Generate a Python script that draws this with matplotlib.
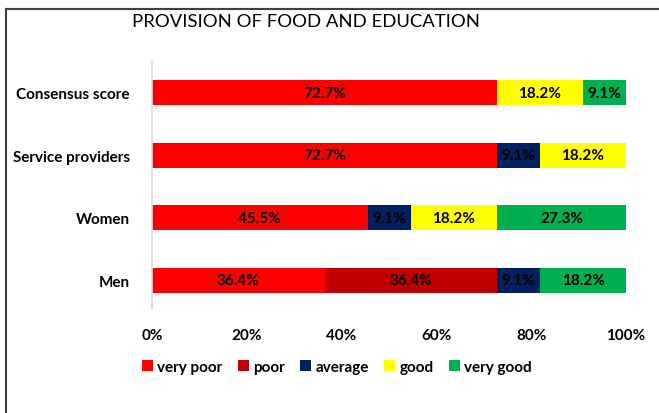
import matplotlib
matplotlib.use("Agg")
import matplotlib.pyplot as plt
from matplotlib.lines import Line2D
import numpy as np

categories = ["Men", "Women", "Service providers", "Consensus score"]
series_names = ["very poor", "poor", "average", "good", "very good"]
very_poor = [36.4, 45.5, 72.7, 72.7]
poor = [36.4, 0, 0, 0]
average = [9.1, 9.1, 9.1, 0]
good = [0, 18.2, 18.2, 18.2]
very_good = [18.2, 27.3, 0, 9.1]
colors = ["#FF0000", "#C00000", "#002060", "#FFFF00", "#00B050"]
xticks = [0, 20, 40, 60, 80, 100]
xtick_labels = ["0%", "20%", "40%", "60%", "80%", "100%"]
title = "PROVISION OF FOOD AND EDUCATION"

plt.rcParams['font.family'] = ['Lato', 'DejaVu Sans']

fig = plt.figure(figsize=(6.59, 4.14), dpi=100)
ax = fig.add_axes([152/659, 1-310/414, (626-152)/659, (310-62)/414])

y = np.arange(len(categories))
left = np.zeros(len(categories))
for name, vals, c in zip(series_names, [very_poor, poor, average, good, very_good], colors):
    vals = np.array(vals, dtype=float)
    ax.barh(y, vals, left=left, height=0.4, color=c, label=name)
    for yi, l, v in zip(y, left, vals):
        if v > 0:
            ax.text(l + v/2, yi, f"{v:.1f}%", ha='center', va='center',
                    fontsize=11, fontweight='bold', color='black')
    left += vals

ax.set_xlim(0, 100)
ax.set_ylim(-0.455, 3.503)
ax.set_yticks(y)
ax.set_yticklabels(categories, fontsize=11, fontweight='bold')
ax.set_xticks(xticks)
ax.set_xticklabels(xtick_labels, fontsize=11, fontweight='bold')
ax.tick_params(axis='both', length=0)
ax.tick_params(axis='y', pad=16)
ax.tick_params(axis='x', pad=14)
for s in ['top', 'right', 'bottom']:
    ax.spines[s].set_visible(False)
ax.spines['left'].set_color('#D9D9D9')
ax.spines['left'].set_linewidth(1.2)

fig.text(306/659, 1-22/414, title, ha='center', va='center', fontsize=13.3)

fig.legend(loc='center', bbox_to_anchor=(337/659, 1-368/414), ncol=5, frameon=False,
           prop={'weight': 'bold', 'size': 11}, handlelength=0.7, handleheight=0.7,
           handletextpad=0.3, columnspacing=1.0)

fig.add_artist(Line2D([5.5/659, 5.5/659], [0, 1-10/414], transform=fig.transFigure, color='#404040', lw=1.5))
fig.add_artist(Line2D([5.5/659, 1], [1-10/414, 1-10/414], transform=fig.transFigure, color='#404040', lw=1.5))

fig.savefig("out.png", dpi=100)
